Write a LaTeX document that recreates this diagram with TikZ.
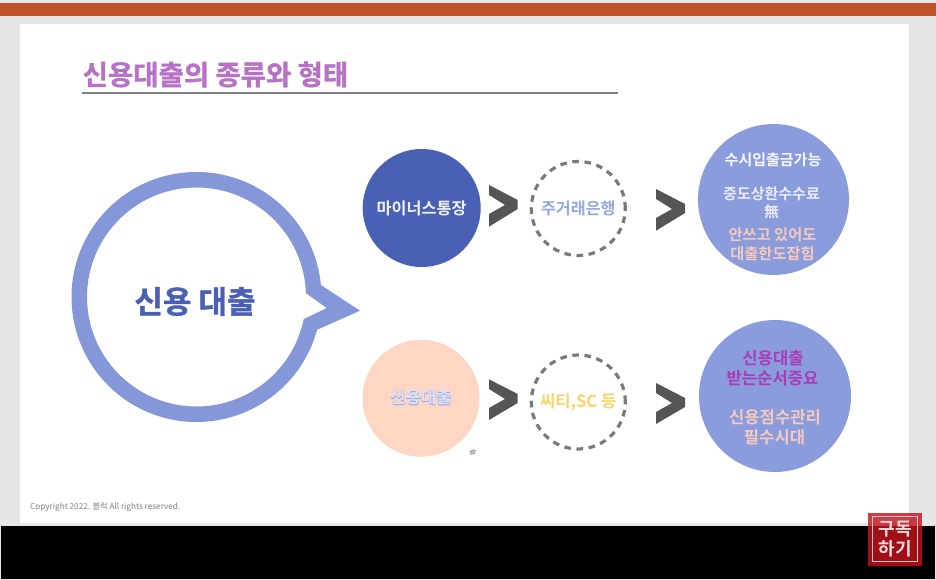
\documentclass[tikz,border=0pt]{standalone}
\usepackage{fontspec}
\setmainfont{Noto Sans CJK KR}
\newfontfamily\krbold{Noto Sans CJK KR Bold}
\newfontfamily\krheavy[FakeBold=1.2]{Noto Sans CJK KR Bold}
\newfontfamily\krhalo[FakeBold=3]{Noto Sans CJK KR Bold}
\newfontfamily\krplain{Noto Sans CJK KR}
\definecolor{barorange}{HTML}{C05127}
\definecolor{bggray}{HTML}{E6E6E6}
\definecolor{titlepurple}{HTML}{B771C6}
\definecolor{bubbleblue}{HTML}{8497D8}
\definecolor{darkblue}{HTML}{4A60B5}
\definecolor{peach}{HTML}{FFD5C4}
\definecolor{midblue}{HTML}{8A9CDC}
\definecolor{chevgray}{HTML}{555555}
\definecolor{dashgray}{HTML}{7A7A7A}
\definecolor{softpeach}{HTML}{F6C9BE}
\definecolor{softyellow}{HTML}{FAD566}
\definecolor{deeppurple}{HTML}{A93CB8}
\definecolor{softblue}{HTML}{95A7E2}
\definecolor{paleblue}{HTML}{DDE3F6}
\definecolor{badgered}{HTML}{C4121C}
\tikzset{
  x=1pt,y=1pt,
  solidcircle/.style={circle,minimum size=#1,inner sep=0pt,outer sep=0pt},
  dashcircle/.style={circle,minimum size=#1,inner sep=0pt,draw=dashgray,line width=3.2pt,dash pattern=on 6.6pt off 5.6pt},
  chevron/.style={fill=chevgray,draw=none},
  lbl/.style={align=center,inner sep=0pt,font=\fontsize{#1}{#1}\selectfont\krplain},
  blbl/.style={align=center,inner sep=0pt,font=\fontsize{#1}{#1}\selectfont\krbold},
  hlbl/.style={align=center,inner sep=0pt,font=\fontsize{#1}{#1}\selectfont\krheavy},
  halolbl/.style={align=center,inner sep=0pt,font=\fontsize{#1}{#1}\selectfont\krhalo},
}
\begin{document}
\begin{tikzpicture}
\useasboundingbox (0,0) rectangle (936,580);
\fill[bggray] (0,0) rectangle (936,580);
\fill[barorange] (0,564) rectangle (936,577);
\fill[white] (20,57) rectangle (909,556);
\fill[black] (1,1) rectangle (935,54);
% title
\node[hlbl=27.5,text=titlepurple,anchor=west] (title) at (82.5,505.5) {신용대출의 종류와 형태};
\coordinate (ruleL) at (82,487);
\coordinate (ruleR) at (618,487);
\draw[gray,line width=1.3pt] (ruleL) -- (ruleR);
% bubble
\fill[bubbleblue,even odd rule]
  (196.5,283) ++(5.5:125) arc[start angle=5.5,end angle=344.8,radius=125] -- (360,269.3) -- cycle
  (196.5,283) ++(2:109.5) arc[start angle=2,end angle=348.3,radius=109.5] -- (326.7,272) -- cycle;
\node[hlbl=31,text=darkblue] (bubble) at (195,278.5) {신용 대출};
% upper row
\node[solidcircle=118pt,fill=darkblue] (minus) at (421.7,372) {};
\node[blbl=16.3,text=white!92!darkblue] at (minus) {마이너스통장};
\fill[chevron] (489,395) -- (517.7,380) -- (517.7,371) -- (489,353.3) -- (489,366) -- (505,375) -- (489,385) -- cycle;
\node[dashcircle=94pt] (bank) at (578.3,371.5) {};
\node[blbl=16.2,text=softblue] at (bank) {주거래은행};
\fill[chevron] (656,391) -- (685,376) -- (685,367) -- (656,349.3) -- (656,362) -- (672,371) -- (656,381) -- cycle;
\node[solidcircle=151pt,fill=midblue] (res1) at (773.5,380.5) {};
\node[blbl=15,text=white!92!midblue] at (773,420) {수시입출금가능};
\node[blbl=15,text=white!80!midblue] at (771.5,386.5) {중도상환수수료};
\node[blbl=15,text=white!80!midblue] at (771.5,368) {無};
\node[blbl=15.3,text=softpeach] at (772.5,345) {안쓰고 있어도};
\node[blbl=15.3,text=softpeach] at (772.5,326) {대출한도잡힘};
% lower row
\node[solidcircle=117pt,fill=peach] (loan) at (421,181.7) {};
\node[halolbl=16.6,text=softblue] at (421,182.5) {신용대출};
\node[blbl=16.6,text=paleblue] at (421,182.5) {신용대출};
\node[blbl=7,text=gray,rotate=-65] (mark) at (473,127.5) {승};
\fill[chevron] (489,200.7) -- (517.7,186) -- (517.7,177) -- (489,160) -- (489,172) -- (505,181) -- (489,191) -- cycle;
\node[dashcircle=94pt] (card) at (578.3,178) {};
\node[blbl=16.6,text=softyellow] at (card) {씨티,SC 등};
\fill[chevron] (656,197) -- (685,182) -- (685,173) -- (656,156) -- (656,168) -- (672,177) -- (656,187) -- cycle;
\node[solidcircle=152pt,fill=midblue] (res2) at (775,184) {};
\node[blbl=16.6,text=deeppurple] at (773,222) {신용대출};
\node[blbl=16.6,text=deeppurple] at (772.5,202) {받는순서중요};
\node[blbl=16.6,text=softpeach] at (775,163) {신용점수관리};
\node[blbl=16.6,text=softpeach] at (774.5,143) {필수시대};
% footer
\node[inner sep=0pt,anchor=west,text=gray,font=\fontsize{8.2}{8.2}\selectfont\krplain] (copy) at (30,72.5) {Copyright 2022. 블럭 All rights reserved.};
% badge
\fill[badgered,opacity=.82] (868,14) rectangle (921.7,67);
\draw[white!75!badgered,line width=1pt] (872,18) rectangle (917.5,63);
\node[blbl=18,text=white!85!badgered] (badge) at (895,40.5) {구독\\[2pt]하기};
\end{tikzpicture}
\end{document}
